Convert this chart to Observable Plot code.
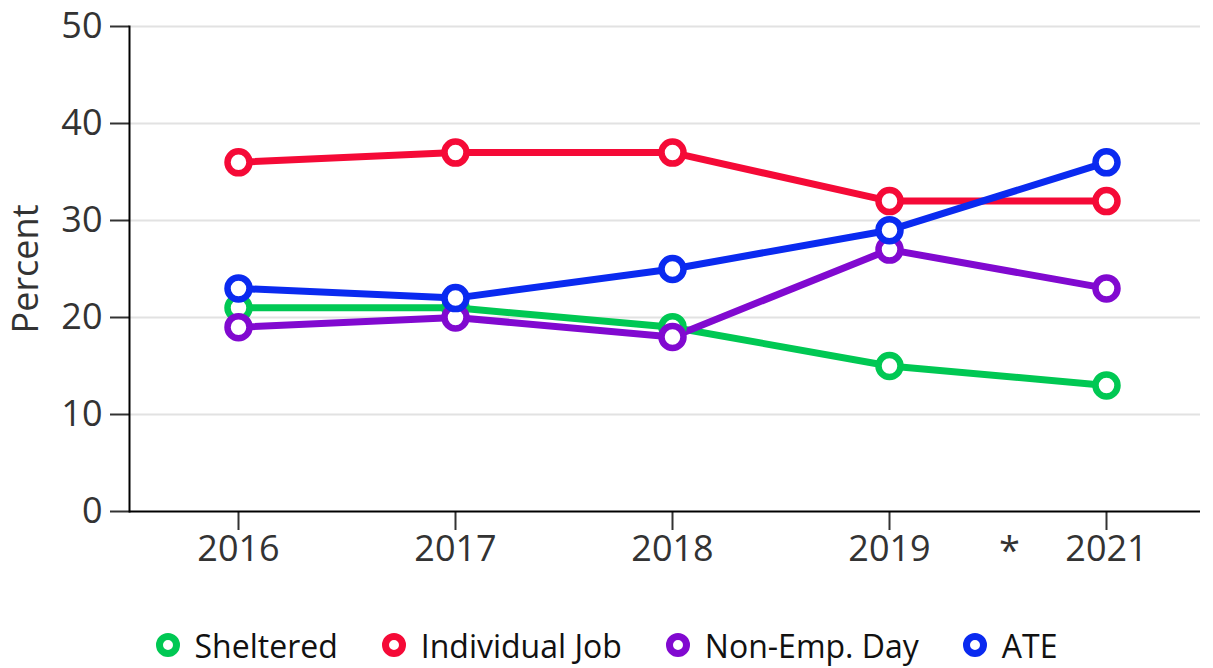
<!DOCTYPE html>
<html>
<head>
<meta charset="utf-8">
<script src="https://cdn.jsdelivr.net/npm/d3@7"></script>
<script src="https://cdn.jsdelivr.net/npm/@observablehq/plot@0.6"></script>
<style>
  html, body { margin: 0; padding: 0; background: #fff; }
  body { width: 1213px; height: 668px; overflow: hidden; font-family: "Open Sans", sans-serif; }
  #legend { display: flex; justify-content: center; align-items: center; height: 42px; padding-top: 12px; font-size: 32px; color: #111; }
  .item { display: flex; align-items: center; margin: 0 22px; }
  .sw { flex-shrink: 0; box-sizing: border-box; width: 24px; height: 24px; border-radius: 50%; border: 7px solid; background: #fff; margin-right: 15px; }
</style>
</head>
<body>
<div id="chart"></div>
<div id="legend"></div>
<script>
const years = ["2016", "2017", "2018", "2019", "2021"];
const seriesNames = ["Sheltered", "Individual Job", "Non-Emp. Day", "ATE"];
const seriesColors = ["#00c853", "#f50a37", "#8109d0", "#0a2af0"];
const sheltered = [21, 21, 19, 15, 13];
const individualJob = [36, 37, 37, 32, 32];
const nonEmpDay = [19, 20, 18, 27, 23];
const ate = [23, 22, 25, 29, 36];
const yTicks = [0, 10, 20, 30, 40, 50];
const gapMarks = [{after: "2019", label: "*"}];

const seriesValues = [sheltered, individualJob, nonEmpDay, ate];
const data = [];
seriesNames.forEach((s, i) => years.forEach((y, j) => data.push({series: s, year: y, value: seriesValues[i][j]})));

const marks = [
  Plot.gridY(yTicks.filter(d => d > 0), {stroke: "#e2e2e2", strokeOpacity: 1, strokeWidth: 2}),
  Plot.axisY({ticks: yTicks, tickSize: 19, tickPadding: 8, fontSize: 36, color: "#333", label: "Percent", labelAnchor: "center", labelArrow: "none", labelOffset: 117, strokeWidth: 2}),
  Plot.axisX({tickSize: 19, tickPadding: 5, fontSize: 36, color: "#333", label: null, strokeWidth: 2}),
  Plot.frame({anchor: "left", stroke: "#000", strokeWidth: 2}),
  Plot.ruleY([0], {stroke: "#000", strokeWidth: 2}),
  Plot.text(gapMarks, {x: "after", text: "label", frameAnchor: "bottom", dx: 120, dy: 52, fontSize: 38, fill: "#333"})
];
seriesNames.forEach((s, i) => {
  const d = data.filter(r => r.series === s);
  marks.push(Plot.line(d, {x: "year", y: "value", stroke: seriesColors[i], strokeWidth: 7}));
});
seriesNames.forEach((s, i) => {
  const d = data.filter(r => r.series === s);
  marks.push(Plot.dot(d, {x: "year", y: "value", r: 11, stroke: seriesColors[i], strokeWidth: 6.5, fill: "#fff"}));
});

const chart = Plot.plot({
  width: 1213,
  height: 612,
  marginLeft: 129,
  marginRight: 13,
  marginTop: 26,
  marginBottom: 101,
  style: {fontFamily: "Open Sans", background: "#fff", overflow: "visible"},
  x: {type: "point", domain: years, range: [237, 1107], padding: 0},
  y: {domain: [0, 50]},
  marks
});
document.getElementById("chart").appendChild(chart);

const legend = document.getElementById("legend");
seriesNames.forEach((s, i) => {
  const item = document.createElement("div");
  item.className = "item";
  const sw = document.createElement("span");
  sw.className = "sw";
  sw.style.borderColor = seriesColors[i];
  const t = document.createElement("span");
  t.textContent = s;
  item.appendChild(sw);
  item.appendChild(t);
  legend.appendChild(item);
});
</script>
</body>
</html>
